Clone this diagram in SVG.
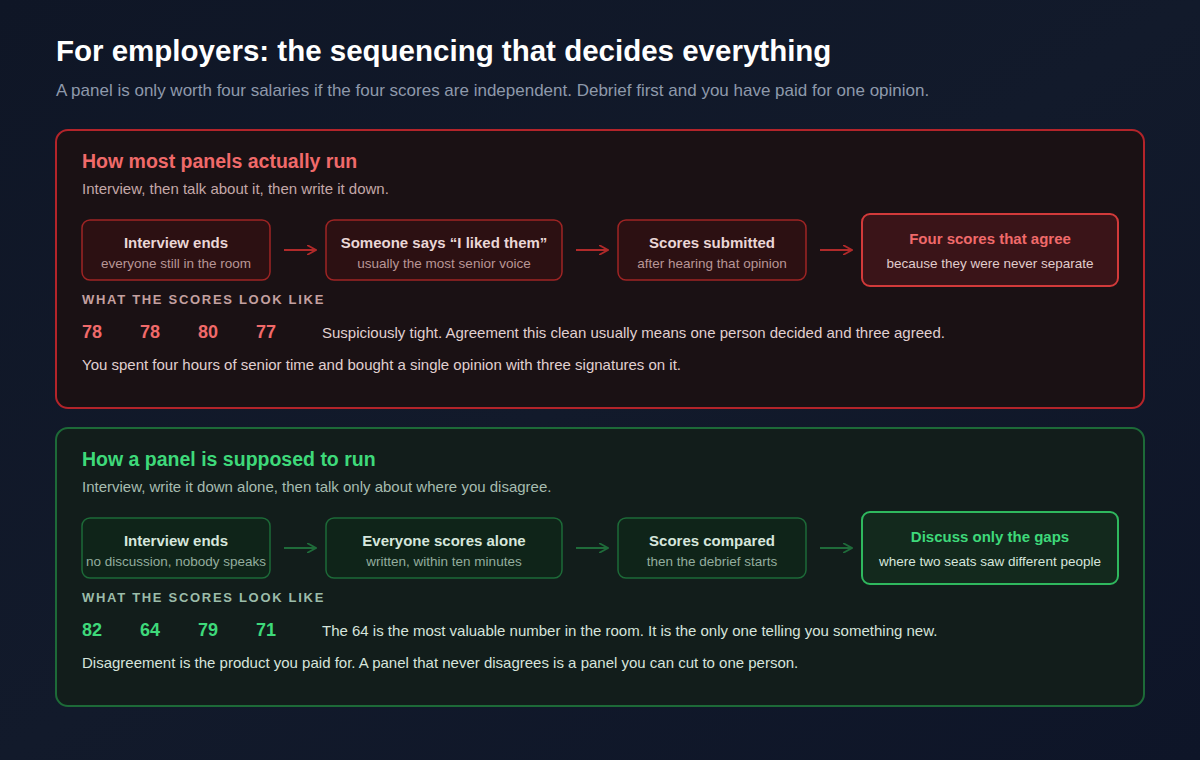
<svg xmlns="http://www.w3.org/2000/svg" width="1200" height="760" viewBox="0 0 1200 760">
<defs>
<linearGradient id="bg" x1="0" y1="0" x2="1" y2="1"><stop offset="0" stop-color="#0f1626"/><stop offset="0.5" stop-color="#121a2b"/><stop offset="1" stop-color="#0e1528"/></linearGradient>
<marker id="ar" viewBox="0 0 10 10" refX="9" refY="5" markerWidth="10" markerHeight="10" markerUnits="userSpaceOnUse" orient="auto"><path d="M0,0 L9,5 L0,10" fill="none" stroke="#b02a2a" stroke-width="1.8"/></marker>
<marker id="ag" viewBox="0 0 10 10" refX="9" refY="5" markerWidth="10" markerHeight="10" markerUnits="userSpaceOnUse" orient="auto"><path d="M0,0 L9,5 L0,10" fill="none" stroke="#1f6b3a" stroke-width="1.8"/></marker>
</defs>
<style>
text{font-family:"Liberation Sans",Arial,sans-serif}
.t{font-size:15px;font-weight:bold;text-anchor:middle}
.s{font-size:13.5px;text-anchor:middle}
.rb{fill:#2c1012;stroke:#9e2424;stroke-width:1.5}
.gb{fill:#0f2419;stroke:#1d6a38;stroke-width:1.5}
.rl{stroke:#b02a2a;stroke-width:2;marker-end:url(#ar)}
.gl{stroke:#1f6b3a;stroke-width:2;marker-end:url(#ag)}
.n{font-size:18px;font-weight:bold}
.h{font-size:13px;font-weight:bold;letter-spacing:1.7px}
.b{font-size:15px}
</style>
<rect width="1200" height="760" fill="url(#bg)"/>
<text x="56" y="61" font-size="29.5" font-weight="bold" fill="#ffffff">For employers: the sequencing that decides everything</text>
<text x="56" y="96" font-size="17" fill="#8e99ab">A panel is only worth four salaries if the four scores are independent. Debrief first and you have paid for one opinion.</text>

<g id="panel-red">
<rect x="56" y="130" width="1088" height="278" rx="12" fill="#1a1114" stroke="#b3242a" stroke-width="2"/>
<text x="82" y="168" font-size="19.5" font-weight="bold" fill="#f06a6a">How most panels actually run</text>
<text x="82" y="194" font-size="15" fill="#c4a8a8">Interview, then talk about it, then write it down.</text>
<text x="82" y="304" class="h" fill="#c4a0a0">WHAT THE SCORES LOOK LIKE</text>
<g class="n" fill="#f06a6a"><text x="82" y="338">78</text><text x="140" y="338">78</text><text x="198" y="338">80</text><text x="256" y="338">77</text></g>
<text x="322" y="338" class="b" fill="#e0d0d0">Suspiciously tight. Agreement this clean usually means one person decided and three agreed.</text>
<text x="82" y="370" class="b" fill="#e0d0d0">You spent four hours of senior time and bought a single opinion with three signatures on it.</text>
</g>
<g id="r1"><rect class="rb" x="82" y="220" width="188" height="60" rx="8"/><text class="t" x="176" y="248" fill="#ead6d6">Interview ends</text><text class="s" x="176" y="268" fill="#b89696">everyone still in the room</text></g>
<g id="r2"><rect class="rb" x="326" y="220" width="236" height="60" rx="8"/><text class="t" x="444" y="248" fill="#ead6d6">Someone says “I liked them”</text><text class="s" x="444" y="268" fill="#b89696">usually the most senior voice</text></g>
<g id="r3"><rect class="rb" x="618" y="220" width="188" height="60" rx="8"/><text class="t" x="712" y="248" fill="#ead6d6">Scores submitted</text><text class="s" x="712" y="268" fill="#b89696">after hearing that opinion</text></g>
<g id="r4"><rect x="862" y="214" width="256" height="72" rx="8" fill="#3a1418" stroke="#d23a3a" stroke-width="2"/><text class="t" x="990" y="244" fill="#f06a6a">Four scores that agree</text><text class="s" x="990" y="268" fill="#e0cccc">because they were never separate</text></g>

<g id="panel-green">
<rect x="56" y="428" width="1088" height="278" rx="12" fill="#121d1b" stroke="#1d6a38" stroke-width="2"/>
<text x="82" y="466" font-size="19.5" font-weight="bold" fill="#3ed97a">How a panel is supposed to run</text>
<text x="82" y="492" font-size="15" fill="#a6bcb0">Interview, write it down alone, then talk only about where you disagree.</text>
<text x="82" y="602" class="h" fill="#9cbcaa">WHAT THE SCORES LOOK LIKE</text>
<g class="n" fill="#3ed97a"><text x="82" y="636">82</text><text x="140" y="636">64</text><text x="198" y="636">79</text><text x="256" y="636">71</text></g>
<text x="322" y="636" class="b" fill="#d6e4dc">The 64 is the most valuable number in the room. It is the only one telling you something new.</text>
<text x="82" y="668" class="b" fill="#d6e4dc">Disagreement is the product you paid for. A panel that never disagrees is a panel you can cut to one person.</text>
</g>
<g id="g1"><rect class="gb" x="82" y="518" width="188" height="60" rx="8"/><text class="t" x="176" y="546" fill="#d6e6dc">Interview ends</text><text class="s" x="176" y="566" fill="#93ad9e">no discussion, nobody speaks</text></g>
<g id="g2"><rect class="gb" x="326" y="518" width="236" height="60" rx="8"/><text class="t" x="444" y="546" fill="#d6e6dc">Everyone scores alone</text><text class="s" x="444" y="566" fill="#93ad9e">written, within ten minutes</text></g>
<g id="g3"><rect class="gb" x="618" y="518" width="188" height="60" rx="8"/><text class="t" x="712" y="546" fill="#d6e6dc">Scores compared</text><text class="s" x="712" y="566" fill="#93ad9e">then the debrief starts</text></g>
<g id="g4"><rect x="862" y="512" width="256" height="72" rx="8" fill="#13291d" stroke="#2fb85e" stroke-width="2"/><text class="t" x="990" y="542" fill="#3ed97a">Discuss only the gaps</text><text class="s" x="990" y="566" fill="#d6e6dc">where two seats saw different people</text></g>

<g id="connectors">
<line class="rl" x1="284" y1="250" x2="316" y2="250"/>
<line class="rl" x1="576" y1="250" x2="608" y2="250"/>
<line class="rl" x1="820" y1="250" x2="852" y2="250"/>
<line class="gl" x1="284" y1="548" x2="316" y2="548"/>
<line class="gl" x1="576" y1="548" x2="608" y2="548"/>
<line class="gl" x1="820" y1="548" x2="852" y2="548"/>
</g>
</svg>
